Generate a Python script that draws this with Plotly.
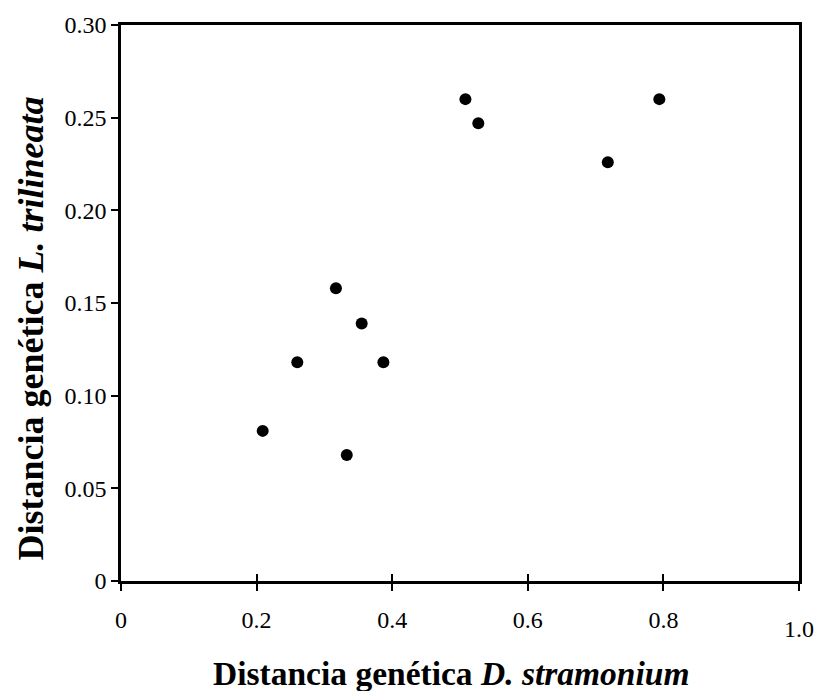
import plotly.graph_objects as go

x_stramonium = [0.209, 0.260, 0.317, 0.333, 0.355, 0.387, 0.508, 0.527, 0.718, 0.794]
y_trilineata = [0.081, 0.118, 0.158, 0.068, 0.139, 0.118, 0.260, 0.247, 0.226, 0.260]

x_ticks = [0, 0.2, 0.4, 0.6, 0.8]
x_ticktext = ["0", "0.2", "0.4", "0.6", "0.8"]
y_ticks = [0, 0.05, 0.10, 0.15, 0.20, 0.25, 0.30]
y_ticktext = ["0", "0.05", "0.10", "0.15", "0.20", "0.25", "0.30"]

FONT = "Liberation Serif, Times New Roman, serif"
TICKSIZE = 24

fig = go.Figure()
fig.add_trace(go.Scatter(
    x=x_stramonium, y=y_trilineata, mode="markers",
    marker=dict(size=12, color="black"), showlegend=False, hoverinfo="skip"))
# invisible trace on second x axis to draw the inner half of the crossing ticks
fig.add_trace(go.Scatter(x=[None], y=[None], xaxis="x2", showlegend=False))

fig.update_layout(
    width=814, height=691,
    margin=dict(l=121, r=15, t=17, b=110),
    paper_bgcolor="white", plot_bgcolor="white",
    font=dict(family=FONT, size=TICKSIZE, color="black"),
    xaxis=dict(range=[0, 1.0], tickvals=x_ticks + [1.0], ticktext=x_ticktext + [" "],
               ticks="outside", ticklen=7, tickwidth=2, tickcolor="black",
               ticklabelstandoff=8,
               showline=True, linewidth=2.5, linecolor="black", mirror=True,
               showgrid=False, zeroline=False,
               tickfont=dict(family=FONT, size=TICKSIZE, color="black")),
    xaxis2=dict(range=[0, 1.0], overlaying="x", anchor="y", side="bottom",
                tickvals=x_ticks + [1.0], ticks="inside", ticklen=7, tickwidth=2,
                tickcolor="black", showticklabels=False, showline=False,
                showgrid=False, zeroline=False),
    yaxis=dict(range=[0, 0.30], tickvals=y_ticks, ticktext=y_ticktext,
               ticks="outside", ticklen=7, tickwidth=2, tickcolor="black",
               showline=True, linewidth=2.5, linecolor="black", mirror=True,
               showgrid=False, zeroline=False,
               tickfont=dict(family=FONT, size=TICKSIZE, color="black")),
    annotations=[
        dict(text="1.0", xref="x", yref="paper", x=1.0, y=0, yshift=-48,
             xanchor="center", yanchor="middle", showarrow=False,
             font=dict(family=FONT, size=TICKSIZE, color="black")),
        dict(text="<b>Distancia genética <i>D. stramonium</i></b>",
             xref="paper", yref="paper", x=0.487, y=-0.167,
             xanchor="center", yanchor="middle", showarrow=False,
             font=dict(family=FONT, size=33.5, color="black")),
        dict(text="<b>Distancia genética <i>L. trilineata</i></b>",
             xref="paper", yref="paper", x=-0.133, y=0.454, textangle=-90,
             xanchor="center", yanchor="middle", showarrow=False,
             font=dict(family=FONT, size=36, color="black")),
    ],
)

fig.write_html("out.html")
